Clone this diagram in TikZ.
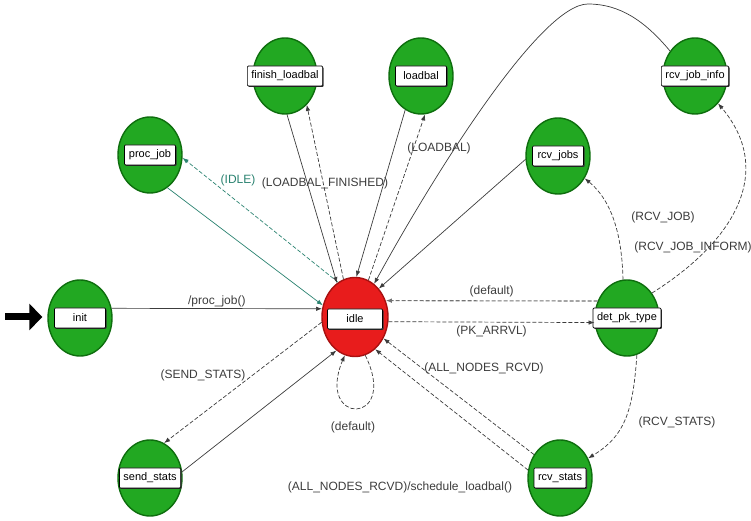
\documentclass[tikz,border=0pt]{standalone}
\usepackage{fontspec}
\setmainfont{Liberation Sans}
\usepackage{tikz}
\usetikzlibrary{arrows.meta,shapes.geometric,shadows}
\definecolor{StGreen}{HTML}{22A822}
\definecolor{StGreenEdge}{HTML}{0E6E0E}
\definecolor{StRed}{HTML}{E81C1C}
\definecolor{StRedEdge}{HTML}{A81010}
\definecolor{TrGrey}{HTML}{3C3C3C}
\definecolor{TrTeal}{HTML}{2A8270}

\begin{document}
\begin{tikzpicture}[x=1pt,y=1pt,
  every node/.style={font=\fontsize{12}{14}\selectfont},
  state/.style={ellipse, draw=StGreenEdge, line width=1.4pt, fill=StGreen,
    minimum width=64pt, minimum height=76pt, inner sep=0pt},
  stlabel/.style={draw=black, fill=white, line width=0.7pt, rounded corners=1pt,
    minimum width=51pt, minimum height=20pt, inner xsep=4pt, inner ysep=0pt,
    drop shadow={shadow xshift=1pt, shadow yshift=-1pt, fill=black!80, opacity=1},
    font=\fontsize{11}{13}\selectfont},
  trans/.style={draw=TrGrey, line width=0.7pt, -{Latex[length=6pt,width=4.5pt]}},
  cond/.style={trans, dash pattern=on 4pt off 2pt},
  lbl/.style={text=TrGrey, inner sep=1pt}]
  \useasboundingbox (0,0) rectangle (751,521);
  % states
  \foreach \nm/\x/\y/\txt in {init/80/203/init, procjob/150/366/proc\_job,
      finish/285/445/finish\_loadbal, loadbal/421/445/loadbal,
      rcvjobs/558/365/rcv\_jobs, rcvinfo/695/445/rcv\_job\_info,
      detpk/627/203/det\_pk\_type, rcvstats/560/43/rcv\_stats,
      sendstats/150/43/send\_stats}{
    \node[state] (\nm) at (\x,\y) {};
    \node[stlabel] (\nm-l) at (\x,\y) {\txt};
  }
  \node[state, draw=StRedEdge, fill=StRed, minimum width=66pt, minimum height=79pt]
    (idle) at (355,204) {};
  \node[stlabel, minimum width=55pt] (idle-l) at (355,202) {idle};
  % entry arrow
  \coordinate (entry) at (5,204);
  \draw[line width=7pt, -{Triangle[length=13pt 0,width=26pt 0]}] (entry) -- ([xshift=-5pt,yshift=1pt]init.west);
  % init / proc_job
  \draw[trans] (init.17) -- node[lbl, above] (l-init) {/proc\_job()} (idle.166);
  \draw[trans, draw=TrTeal] (procjob.-62) -- (idle.160);
  \draw[cond, draw=TrTeal] (idle.116) -- (procjob.-5);
  \node[lbl, text=TrTeal] (l-idle) at (238,341) {(IDLE)};
  % load balancing
  \draw[trans] (finish.-87) -- (idle.118);
  \draw[cond] (idle.107) -- (finish.-53);
  \node[lbl] (l-finish) at (325,338) {(LOADBAL\_FINISHED)};
  \draw[trans] (loadbal.-115) -- (idle.88);
  \draw[cond] (idle.70) -- (loadbal.-84);
  \node[lbl] (l-loadbal) at (439,373) {(LOADBAL)};
  % job receipt
  \draw[trans] (rcvinfo.135) .. controls (645,500) and (620,517) .. (588,517)
    .. controls (540,517) and (432,343) .. (idle.60);
  \draw[trans] (rcvjobs.186) -- (idle.50);
  % packet type
  \draw[cond, line width=1.1pt, draw=black!55] (detpk.150) -- node[lbl, above=2pt] (l-dflt) {(default)} (idle.28);
  \draw[cond] (idle.-8) -- node[lbl, below=2pt] (l-pk) {(PK\_ARRVL)} (detpk.188);
  \draw[cond] (detpk.96) .. controls (622,290) and (610,322) .. (rcvjobs.-40);
  \node[lbl] (l-rcvjob) at (663,304) {(RCV\_JOB)};
  \draw[cond] (detpk.45) .. controls (735,280) and (775,350) .. (rcvinfo.-50);
  \node[lbl] (l-rcvinfo) at (693,274) {(RCV\_JOB\_INFORM)};
  \draw[cond] (detpk.-75) .. controls (633,110) and (625,85) .. (rcvstats.35);
  \node[lbl] (l-rcvstats) at (677,99) {(RCV\_STATS)};
  % stats
  \draw[cond] (rcvstats.138) -- (idle.-37);
  \node[lbl] (l-all) at (484,153) {(ALL\_NODES\_RCVD)};
  \draw[cond] (rcvstats.166) -- (idle.-58);
  \node[lbl] (l-sched) at (400,34) {(ALL\_NODES\_RCVD)/schedule\_loadbal()};
  \draw[cond] (idle.189) -- (sendstats.68);
  \node[lbl] (l-send) at (203,146) {(SEND\_STATS)};
  \draw[trans] (sendstats.11) -- (idle.-119);
  % self loop
  \draw[cond] (idle.-75) .. controls (400,95) and (315,95) .. (idle.-105);
  \node[lbl] (l-loop) at (353,94) {(default)};
\end{tikzpicture}
\end{document}
